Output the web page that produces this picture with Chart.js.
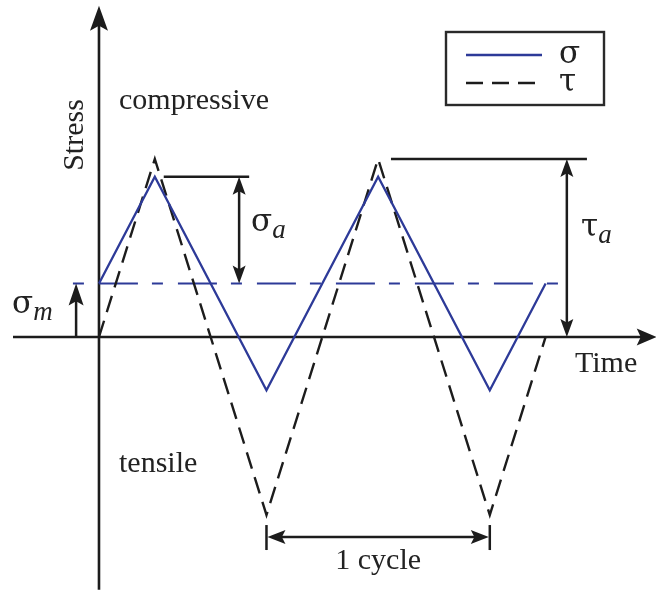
<!DOCTYPE html>
<html>
<head>
<meta charset="utf-8">
<script src="https://cdn.jsdelivr.net/npm/chart.js@4.4.0/dist/chart.umd.min.js"></script>
<style>
  html, body { margin: 0; padding: 0; background: #fff; }
  canvas { display: block; }
</style>
</head>
<body>
<canvas id="stressChart" width="656" height="594"></canvas>
<script>
// time is counted in quarter cycles, stress in arbitrary units
const timeTicks = [0, 1, 3, 5, 7, 8];
const sigmaValues = [3, 9, -3, 9, -3, 3];
const tauValues = [0, 10, -10, 10, -10, 0];
const sigmaMean = 3;
const meanSpan = [-0.61, 8.32];
const cycleSpan = [3, 7];
const seriesLabels = ['σ', 'τ'];

const BLUE = '#2d3a98';
const INK = '#1c1c1c';
const SERIF = '"Liberation Serif", "DejaVu Serif", serif';
const GREEK = '"DejaVu Serif", serif';

function toPoints(xs, ys) {
    return xs.map((x, i) => ({ x: x, y: ys[i] }));
}

// stealth-ish arrow head, tip at (x, y), pointing along angle
function arrowHead(ctx, x, y, angle, len, half) {
    ctx.save();
    ctx.translate(x, y);
    ctx.rotate(angle);
    ctx.beginPath();
    ctx.moveTo(0, 0);
    ctx.lineTo(-len, -half);
    ctx.lineTo(-len * 0.8, 0);
    ctx.lineTo(-len, half);
    ctx.closePath();
    ctx.fill();
    ctx.restore();
}

function segment(ctx, x1, y1, x2, y2) {
    ctx.beginPath();
    ctx.moveTo(x1, y1);
    ctx.lineTo(x2, y2);
    ctx.stroke();
}

// greek letter with a math-italic subscript
function symbol(ctx, base, sub, x, y) {
    ctx.font = '31px ' + GREEK;
    ctx.fillText(base, x, y);
    const w = ctx.measureText(base).width;
    ctx.font = 'italic 27px ' + SERIF;
    ctx.fillText(sub, x + w, y + 7);
}

const diagram = {
    id: 'diagram',
    beforeDatasetsDraw(chart) {
        const ctx = chart.ctx;
        const sx = chart.scales.x, sy = chart.scales.y;
        const x0 = sx.getPixelForValue(0), y0 = sy.getPixelForValue(0);
        ctx.save();
        ctx.strokeStyle = INK;
        ctx.fillStyle = INK;
        ctx.lineWidth = 2.6;
        // stress axis
        const top = sy.getPixelForValue(18.6);
        segment(ctx, x0, sy.getPixelForValue(-14.2), x0, top + 10);
        arrowHead(ctx, x0, top, -Math.PI / 2, 25, 9);
        // time axis
        const right = sx.getPixelForValue(9.99);
        segment(ctx, sx.getPixelForValue(-1.54), y0, right - 8, y0);
        arrowHead(ctx, right, y0, 0, 20, 8.5);
        ctx.restore();
    },
    afterDatasetsDraw(chart) {
        const ctx = chart.ctx;
        const sx = chart.scales.x, sy = chart.scales.y;
        const px = v => sx.getPixelForValue(v);
        const py = v => sy.getPixelForValue(v);
        ctx.save();
        ctx.strokeStyle = INK;
        ctx.fillStyle = INK;
        ctx.lineWidth = 2.5;

        // sigma amplitude
        segment(ctx, px(1.16), py(9), px(2.69), py(9));
        segment(ctx, px(2.51), py(9) + 12, px(2.51), py(sigmaMean) - 12);
        arrowHead(ctx, px(2.51), py(9), -Math.PI / 2, 18, 6.5);
        arrowHead(ctx, px(2.51), py(sigmaMean), Math.PI / 2, 18, 6.5);

        // tau amplitude
        segment(ctx, px(5.23), py(10), px(8.74), py(10));
        segment(ctx, px(8.38), py(10) + 12, px(8.38), py(0) - 12);
        arrowHead(ctx, px(8.38), py(10), -Math.PI / 2, 18, 6.5);
        arrowHead(ctx, px(8.38), py(0), Math.PI / 2, 18, 6.5);

        // mean stress
        segment(ctx, px(-0.41), py(0), px(-0.41), py(sigmaMean) + 12);
        arrowHead(ctx, px(-0.41), py(sigmaMean), -Math.PI / 2, 22, 7.5);

        // one cycle
        const cy = py(-11.24);
        const c1 = px(cycleSpan[0]), c2 = px(cycleSpan[1]);
        segment(ctx, c1, cy - 12, c1, cy + 13);
        segment(ctx, c2, cy - 12, c2, cy + 13);
        segment(ctx, c1 + 10, cy, c2 - 10, cy);
        arrowHead(ctx, c1 + 1, cy, Math.PI, 18, 7);
        arrowHead(ctx, c2 - 1, cy, 0, 18, 7);

        // labels
        ctx.fillStyle = '#222';
        ctx.font = '30px ' + SERIF;
        ctx.textAlign = 'left';
        ctx.textBaseline = 'alphabetic';
        ctx.fillText('compressive', 119, 109);
        ctx.fillText('tensile', 119, 472);
        ctx.fillText('Time', 575, 372);
        ctx.textAlign = 'center';
        ctx.fillText('1 cycle', (c1 + c2) / 2, 569);
        ctx.save();
        ctx.translate(83, 135);
        ctx.rotate(-Math.PI / 2);
        ctx.fillText('Stress', 0, 0);
        ctx.restore();

        ctx.textAlign = 'left';
        symbol(ctx, 'σ', 'a', 251, 231);
        symbol(ctx, 'τ', 'a', 581, 236);
        symbol(ctx, 'σ', 'm', 12, 313);

        // legend with frame
        ctx.lineWidth = 2.4;
        ctx.strokeStyle = '#2a2a2a';
        ctx.strokeRect(446, 32, 158, 73);
        chart.data.datasets.forEach((ds, i) => {
            if (!ds.label) return;
            const ly = 55 + i * 28;
            ctx.strokeStyle = ds.borderColor;
            ctx.lineWidth = 2.6;
            ctx.setLineDash(ds.borderDash || []);
            ctx.lineDashOffset = 0;
            segment(ctx, 466, ly, 542, ly);
            ctx.setLineDash([]);
            ctx.fillStyle = '#222';
            ctx.font = '31px ' + GREEK;
            ctx.fillText(ds.label, 559, ly + 8);
        });
        ctx.restore();
    }
};

new Chart(document.getElementById('stressChart'), {
    type: 'line',
    data: {
        datasets: [
            {
                label: seriesLabels[0],
                data: toPoints(timeTicks, sigmaValues),
                borderColor: BLUE,
                borderWidth: 2.3,
                pointRadius: 0,
                tension: 0
            },
            {
                label: seriesLabels[1],
                data: toPoints(timeTicks, tauValues),
                borderColor: INK,
                borderWidth: 2.4,
                borderDash: [17, 9],
                pointRadius: 0,
                tension: 0
            },
            {
                label: '',
                data: toPoints(meanSpan, [sigmaMean, sigmaMean]),
                borderColor: BLUE,
                borderWidth: 2,
                borderDash: [39, 14, 11, 15],
                borderDashOffset: 45,
                pointRadius: 0,
                tension: 0
            }
        ]
    },
    options: {
        responsive: false,
        animation: false,
        layout: { padding: 0 },
        plugins: {
            legend: { display: false },
            tooltip: { enabled: false }
        },
        scales: {
            x: { type: 'linear', min: -1.773, max: 9.977, display: false },
            y: { type: 'linear', min: -14.44, max: 18.93, display: false }
        }
    },
    plugins: [diagram]
});
</script>
</body>
</html>
